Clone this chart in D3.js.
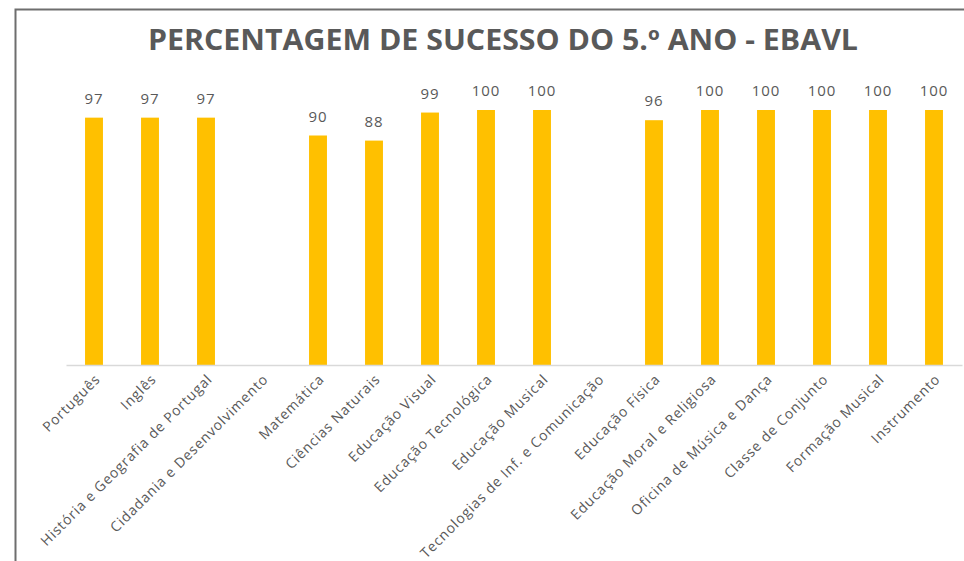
<!DOCTYPE html>
<html>
<head>
<meta charset="utf-8">
<script src="https://cdn.jsdelivr.net/npm/d3@7"></script>
<style>
  body { margin: 0; background: #fff; }
  svg { display: block; }
</style>
</head>
<body>
<div id="chart"></div>
<script>
// chart data
const title = "PERCENTAGEM DE SUCESSO DO 5.º ANO - EBAVL";
const subjects = [
  "Português", "Inglês", "História e Geografia de Portugal",
  "Cidadania e Desenvolvimento", "Matemática", "Ciências Naturais",
  "Educação Visual", "Educação Tecnológica", "Educação Musical",
  "Tecnologias de Inf. e Comunicação", "Educação Física",
  "Educação Moral e Religiosa", "Oficina de Música e Dança",
  "Classe de Conjunto", "Formação Musical", "Instrumento"
];
const success = [97, 97, 97, null, 90, 88, 99, 100, 100, null, 96, 100, 100, 100, 100, 100];

const W = 964, H = 561;
const svg = d3.select("#chart").append("svg")
  .attr("width", W).attr("height", H);

// frame of the chart area
svg.append("path")
  .attr("d", "M15.5,561 V9.5 H964")
  .attr("fill", "none")
  .attr("stroke", "#6e6e6e")
  .attr("stroke-width", 2);

svg.append("text")
  .attr("x", 503).attr("y", 50)
  .attr("text-anchor", "middle")
  .attr("font-family", "'Open Sans', sans-serif")
  .attr("font-weight", "bold")
  .attr("font-size", 28)
  .attr("fill", "#595959")
  .attr("textLength", 710)
  .attr("lengthAdjust", "spacingAndGlyphs")
  .text(title);

const x = d3.scaleBand()
  .domain(subjects)
  .range([66, 962])
  .paddingInner(0.68)
  .paddingOuter(0.34);

const y = d3.scaleLinear()
  .domain([0, 100])
  .range([365, 110]);

const data = subjects.map((s, i) => ({ name: s, value: success[i] }));

// bars
svg.selectAll("rect.bar")
  .data(data.filter(d => d.value != null))
  .enter().append("rect")
  .attr("class", "bar")
  .attr("x", d => x(d.name))
  .attr("width", x.bandwidth())
  .attr("y", d => y(d.value))
  .attr("height", d => y(0) - y(d.value))
  .attr("fill", "#ffc000");

// value labels
svg.selectAll("text.val")
  .data(data.filter(d => d.value != null))
  .enter().append("text")
  .attr("class", "val")
  .attr("x", d => x(d.name) + x.bandwidth() / 2)
  .attr("y", d => y(d.value) - 14)
  .attr("text-anchor", "middle")
  .attr("font-family", "'Open Sans', sans-serif")
  .attr("font-size", 15)
  .attr("letter-spacing", 1)
  .attr("fill", "#595959")
  .text(d => d.value);

// x axis
const xAxis = svg.append("g")
  .attr("transform", `translate(0,${y(0)})`)
  .call(d3.axisBottom(x).tickSize(0).tickSizeOuter(0));

xAxis.select(".domain").attr("stroke", "#d9d9d9").attr("stroke-width", 1.5);
xAxis.selectAll(".tick text")
  .attr("font-family", "'Open Sans', sans-serif")
  .attr("font-size", 14)
  .attr("letter-spacing", 0.85)
  .attr("fill", "#595959")
  .attr("text-anchor", "end")
  .attr("dx", 0).attr("dy", 0)
  .attr("transform", "translate(5,13) rotate(-45)");
</script>
</body>
</html>
